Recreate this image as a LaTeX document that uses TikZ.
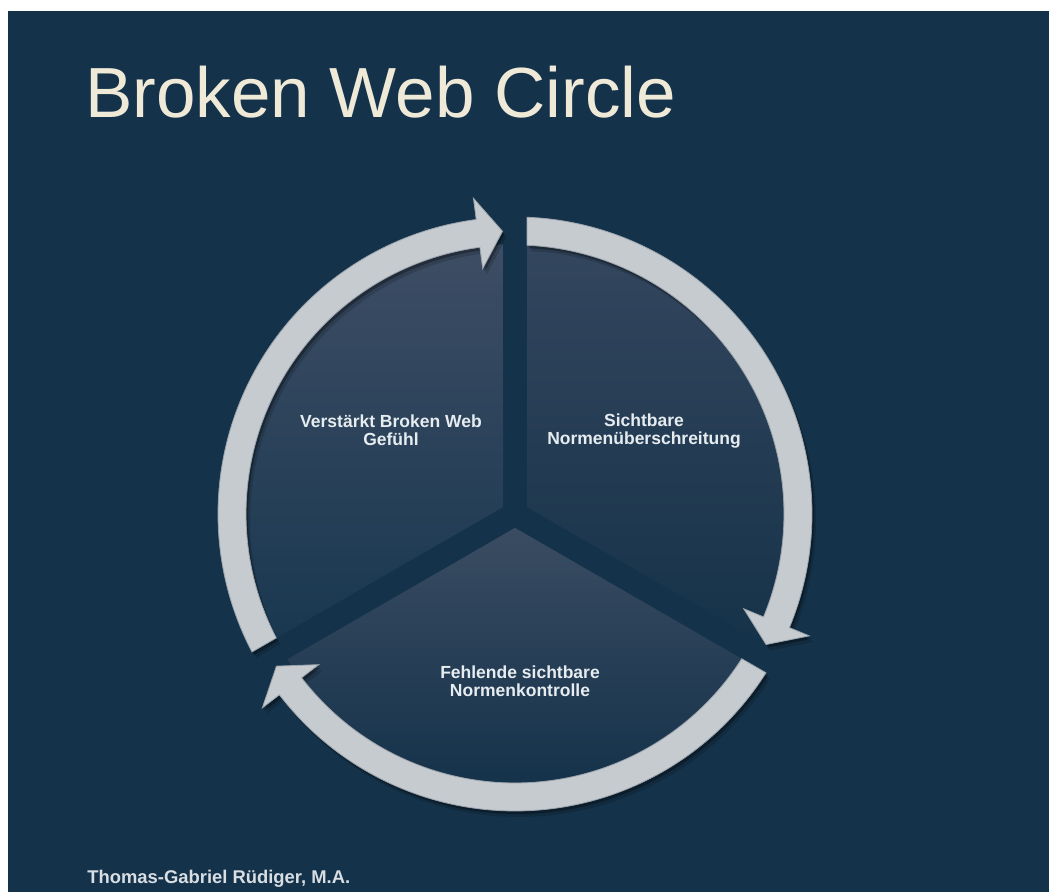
\documentclass[tikz,border=0pt]{standalone}
\usepackage{fontspec}
\setmainfont{Liberation Sans}
\definecolor{bg}{HTML}{14324A}
\definecolor{tlTop}{HTML}{3D4D64}
\definecolor{tlBot}{HTML}{193850}
\definecolor{trTop}{HTML}{33465E}
\definecolor{trBot}{HTML}{163349}
\definecolor{bTop}{HTML}{3A4C62}
\definecolor{bBot}{HTML}{14324A}
\definecolor{ringc}{HTML}{C6CBD0}
\definecolor{ringedge}{HTML}{9AA3AB}
\definecolor{titlec}{HTML}{EFE9D8}
\definecolor{lblc}{HTML}{E6ECF0}
\definecolor{authc}{HTML}{D8DEE3}
\newcommand\RingPath[4]{(#1:297) arc[start angle=#1,end angle=#3,radius=297] -- (#3:318.5) -- (#4:283) -- (#3:247.5) -- (#3:269) arc[start angle=#3,end angle=#2,radius=269] -- cycle}
\newcommand\RingArrow[4]{%
  \begin{scope}[shift={(4,-6)}]\fill[shadowfill,opacity=0.15] \RingPath{#1}{#2}{#3}{#4};\end{scope}
  \begin{scope}[shift={(2,-3)}]\fill[shadowfill,opacity=0.3] \RingPath{#1}{#2}{#3}{#4};\end{scope}
  \fill[ringpiece] \RingPath{#1}{#2}{#3}{#4};}
\tikzset{
  shadowfill/.style={fill=black},
  ringpiece/.style={fill=ringc,draw=ringedge,line width=0.4pt},
  lbl/.style={align=center,font=\bfseries\fontsize{8.75}{9}\selectfont,text=lblc,inner sep=0pt},
  titletext/.style={font=\fontsize{35.5}{40}\selectfont,text=titlec,inner sep=0pt},
  authortext/.style={font=\bfseries\fontsize{9.2}{11}\selectfont,text=authc,inner sep=0pt}
}
\begin{document}
\begin{tikzpicture}[x=0.5pt,y=0.5pt]
\useasboundingbox (0,0) rectangle (1049,892);
\fill[white] (0,0) rectangle (1049,892);
\fill[bg] (8,0) rectangle (1049,881);
\begin{scope}[shift={(515,378)}]
  % sectors
  \shade[top color=tlTop,bottom color=tlBot] (150:13.86) -- (92.55:270) arc[start angle=92.55,end angle=207.45,radius=270] -- cycle;
  \shade[top color=trTop,bottom color=trBot] (30:13.86) -- (87.45:270) arc[start angle=87.45,end angle=-27.45,radius=270] -- cycle;
  \shade[top color=bTop,bottom color=bBot] (270:13.86) -- (212.55:270) arc[start angle=212.55,end angle=327.45,radius=270] -- cycle;
  % ring arrows
  \RingArrow{207.68}{207.44}{97.5}{92.53}
  \RingArrow{87.68}{87.44}{-22.5}{-27.47}
  \RingArrow{327.68}{327.44}{217.5}{212.53}
\end{scope}
\node[titletext,anchor=base west] (title) at (85,774) {Broken Web Circle};
\node[authortext,anchor=base west] (author) at (87,8) {Thomas-Gabriel Rüdiger, M.A.};
\node[lbl] (l1) at (391,462) {Verstärkt Broken Web\\Gefühl};
\node[lbl] (l2) at (644,461) {Sichtbare\\Normenüberschreitung};
\node[lbl] (l3) at (520,211) {Fehlende sichtbare\\Normenkontrolle};
\end{tikzpicture}
\end{document}
